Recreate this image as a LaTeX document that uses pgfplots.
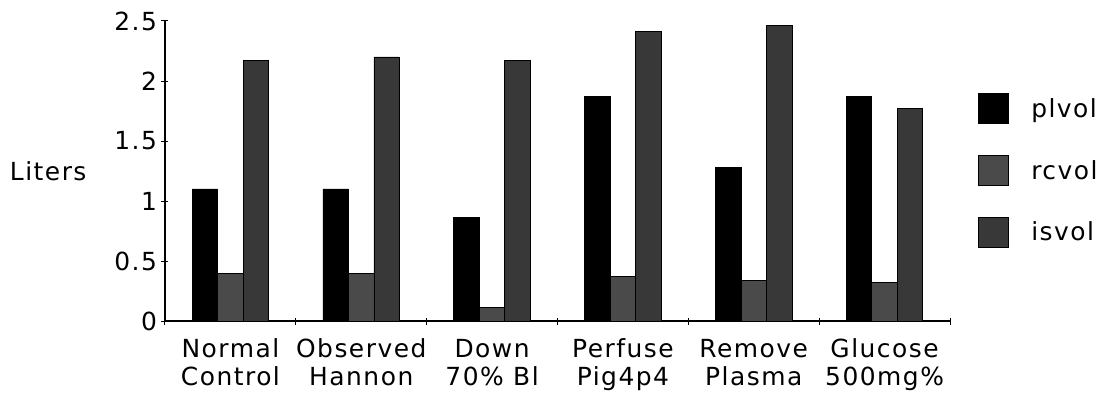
\documentclass[border=0pt]{standalone}
\usepackage{pgfplots}
\pgfplotsset{compat=1.18}
\usepackage{fontspec}
\setmainfont[LetterSpace=6]{DejaVu Sans}
\definecolor{rcgray}{HTML}{4A4A4A}
\definecolor{isgray}{HTML}{383838}
\begin{document}
\begin{tikzpicture}[font=\fontsize{25}{28}\selectfont]
\useasboundingbox (-165bp,-95bp) rectangle (938bp,321bp);
\begin{axis}[
  at={(0bp,0bp)}, anchor=south west,
  scale only axis, width=785bp, height=300bp,
  xmin=-0.5, xmax=5.5, ymin=0, ymax=2.5,
  axis lines*=left,
  axis line style={line width=1.2pt},
  ybar=0pt, bar width=25.5bp,
  ytick={0,0.5,1,1.5,2,2.5},
  yticklabel style={/pgf/number format/fixed, /pgf/number format/assume math mode=true, xshift=-1bp},
  xtick={-0.5,0.5,1.5,2.5,3.5,4.5,5.5},
  xticklabels={},
  tick style={black, line width=1pt},
  major tick length=7bp,
  tick align=center,
  extra x ticks={0,1,2,3,4,5},
  extra x tick labels={Normal\\Control, Observed\\Hannon, Down\\70\% Bl, Perfuse\\Pig4p4, Remove\\Plasma, Glucose\\500mg\%},
  extra x tick style={tick style={draw=none}, tick label style={align=center, yshift=-11bp}},
  ylabel={Liters},
  every axis y label/.style={at={(axis description cs:0,0.5)}, anchor=east, xshift=-75bp},
  legend style={at={(1.036,0.76)}, anchor=north west, draw=none, fill=none, inner sep=0pt,
    row sep=31bp, nodes={inner sep=0pt}, /tikz/every odd column/.append style={column sep=22bp}},
  legend cell align=left,
  legend image code/.code={\draw[#1, line width=0.8pt] (0bp,-15bp) rectangle (30bp,15bp);},
  clip=false,
]
\addplot[fill=black, draw=black, line width=0.8pt] coordinates {(0,1.10) (1,1.10) (2,0.86) (3,1.87) (4,1.28) (5,1.87)};
\addplot[fill=rcgray, draw=black, line width=0.8pt] coordinates {(0,0.40) (1,0.40) (2,0.11) (3,0.37) (4,0.34) (5,0.32)};
\addplot[fill=isgray, draw=black, line width=0.8pt] coordinates {(0,2.17) (1,2.20) (2,2.17) (3,2.41) (4,2.46) (5,1.77)};
\legend{plvol, rcvol, isvol}
\end{axis}
\end{tikzpicture}
\end{document}
